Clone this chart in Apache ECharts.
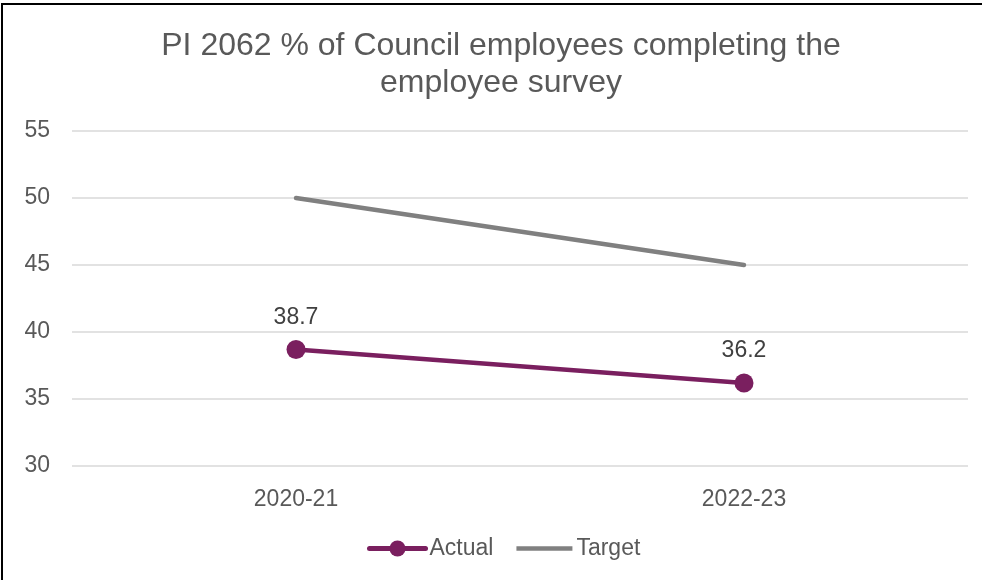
<!DOCTYPE html>
<html>
<head>
<meta charset="utf-8">
<script src="https://cdn.jsdelivr.net/npm/echarts@6/dist/echarts.min.js"></script>
<style>
html,body{margin:0;padding:0;background:#fff;}
#frame{position:absolute;left:1px;top:3px;width:981px;height:577px;border-top:2px solid #000;border-left:2px solid #000;box-sizing:border-box;}
#chart{position:absolute;left:0;top:0;width:982px;height:580px;}
</style>
</head>
<body>
<div id="chart"></div>
<div id="frame"></div>
<script>
const categories = ['2020-21', '2022-23'];
const actual = [38.7, 36.2];
const target = [50, 45];
const yTicks = [30, 35, 40, 45, 50, 55];
const titleText = 'PI 2062 % of Council employees completing the\nemployee survey';

const FONT = '"Liberation Sans", Arial, sans-serif';
const chart = echarts.init(document.getElementById('chart'), null, {renderer: 'canvas'});
chart.setOption({
  animation: false,
  backgroundColor: '#fff',
  graphic: [{
    type: 'text',
    x: 501,
    y: 28,
    style: {
      text: titleText,
      font: '32px ' + FONT,
      fill: '#595959',
      align: 'center',
      verticalAlign: 'top',
      lineHeight: 37
    }
  }],
  grid: {left: 72, right: 14, top: 131, bottom: 114, containLabel: false},
  legend: {
    top: 532,
    left: 362,
    itemWidth: 56,
    itemHeight: 20,
    itemGap: 23,
    textStyle: {fontFamily: FONT, fontSize: 23, color: '#595959', padding: [0, 0, 0, -1]},
    data: [
      {name: 'Actual', lineStyle: {width: 5}},
      {name: 'Target', icon: 'path://M0,7 L56,7 L56,11.5 L0,11.5 Z'}
    ]
  },
  xAxis: {
    type: 'category',
    data: categories,
    boundaryGap: true,
    axisLine: {show: false},
    axisTick: {show: false},
    axisLabel: {fontFamily: FONT, fontSize: 23, color: '#595959', margin: 22}
  },
  yAxis: {
    type: 'value',
    min: yTicks[0],
    max: yTicks[yTicks.length - 1],
    interval: 5,
    axisLine: {show: false},
    axisTick: {show: false},
    splitLine: {lineStyle: {color: '#d9d9d9', width: 1.5}},
    axisLabel: {fontFamily: FONT, fontSize: 23, color: '#595959', margin: 22}
  },
  series: [
    {
      name: 'Actual',
      type: 'line',
      data: actual,
      symbol: 'circle',
      symbolSize: 19,
      itemStyle: {color: '#7a1f5f'},
      lineStyle: {color: '#7a1f5f', width: 4.5, cap: 'round'},
      label: {show: true, position: 'top', distance: 11, fontFamily: FONT, fontSize: 23, color: '#404040'},
      z: 3
    },
    {
      name: 'Target',
      type: 'line',
      data: target,
      symbol: 'none',
      itemStyle: {color: '#808080'},
      lineStyle: {color: '#808080', width: 4.5, cap: 'round'},
      z: 2
    }
  ]
});
</script>
</body>
</html>
